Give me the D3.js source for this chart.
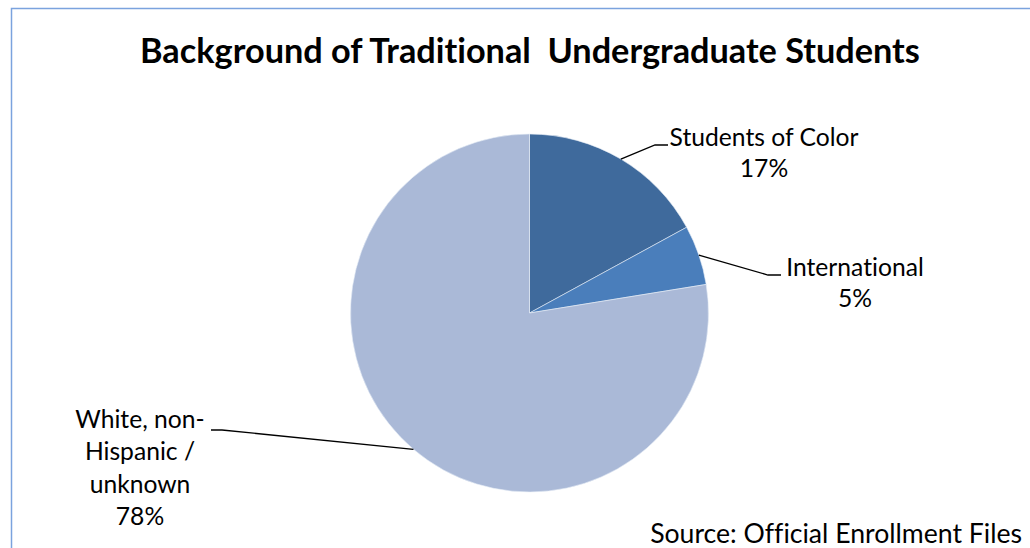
<!DOCTYPE html>
<html><head><meta charset="utf-8">
<script src="https://cdn.jsdelivr.net/npm/d3@7"></script>
<style>
html,body{margin:0;padding:0;background:#fff;}
svg{display:block;}
text{font-family:Lato,"Open Sans",sans-serif;fill:#000;font-variant-ligatures:none;}
</style></head>
<body>
<svg id="c" width="1030" height="548"></svg>
<script>
// ---- data ----
const categories = ["Students of Color", "International", "White, non-Hispanic / unknown"];
const values = [17.05, 5.4, 77.55];
const valueLabels = ["17%", "5%", "78%"];
const labelLines = [["Students of Color"], ["International"], ["White, non-", "Hispanic /", "unknown"]];
const titleText = "Background of Traditional  Undergraduate Students";
const sourceText = "Source: Official Enrollment Files";

// ---- layout / style ----
const colors = ["#3F6A9C", "#4A7EBB", "#AAB9D7"];
const cx = 529.5, cy = 313, R = 179;
const labelLayout = [
  {elbow:[655,145], end:[668,145], tx:764, ty:146},
  {elbow:[768,275], end:[781,275], tx:855, ty:276},
  {elbow:[222,430], end:[211,430], tx:140, ty:428}
];

const svg = d3.select("#c");
svg.append("rect").attr("width",1030).attr("height",548).attr("fill","#fff");
svg.append("path").attr("d","M11.5,548 L11.5,8.5 L1030,8.5")
  .attr("fill","none").attr("stroke","#7BA3DE").attr("stroke-width",1.5);

function fitText(sel, target){
  const w = sel.node().getComputedTextLength();
  const fs = parseFloat(sel.attr("font-size"));
  sel.attr("font-size", fs*target/w);
}

const title = svg.append("text").attr("x",530).attr("y",63).attr("text-anchor","middle")
  .attr("font-weight","bold").attr("font-size",30)
  .style("white-space","pre").text(titleText);
fitText(title, 780);

const pie = d3.pie().sort(null).value(d=>d)(values);
const arc = d3.arc().innerRadius(0).outerRadius(R);
const edge = d3.arc().innerRadius(R).outerRadius(R);

const g = svg.append("g").attr("transform",`translate(${cx},${cy})`);
g.selectAll("path.slice").data(pie).join("path").attr("class","slice")
  .attr("d",arc).attr("fill",(d,i)=>colors[i]).attr("stroke","#e8eef7").attr("stroke-width",0.6);

const probe = svg.append("text").attr("font-size",20).text("Students of Color");
const lfs = 20*189/probe.node().getComputedTextLength();
probe.remove();

pie.forEach((d,i)=>{
  const p = edge.centroid(d);
  const L = labelLayout[i];
  svg.append("polyline")
    .attr("points",[[cx+p[0],cy+p[1]], L.elbow, L.end].map(q=>q.join(",")).join(" "))
    .attr("fill","none").attr("stroke","#000").attr("stroke-width",1.3);
  const lines = labelLines[i].concat([valueLabels[i]]);
  lines.forEach((t,j)=>{
    svg.append("text").attr("x",L.tx).attr("y",L.ty + j*(i===2?32.3:31))
      .attr("text-anchor","middle").attr("font-size",lfs).text(t);
  });
});

const src = svg.append("text").attr("x",1022).attr("y",543).attr("text-anchor","end")
  .attr("font-size",20).text(sourceText);
fitText(src, 372);
</script>
</body></html>
